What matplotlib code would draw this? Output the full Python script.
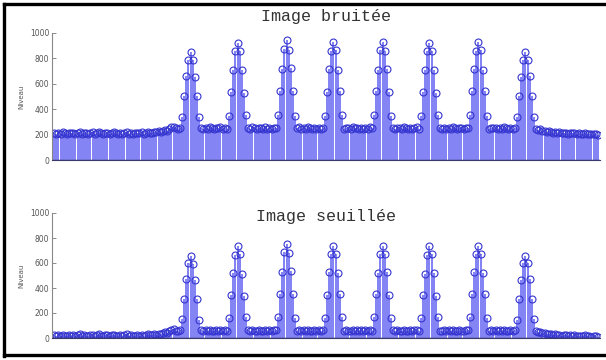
import matplotlib
matplotlib.use("Agg")
import matplotlib.pyplot as plt
from matplotlib.lines import Line2D
import numpy as np

# Profil de niveaux (256 échantillons) : image bruitée
niveaux_bruites = [
    212, 205, 215, 208, 218, 210, 204, 213, 209, 216,
    207, 211, 219, 206, 214, 210, 203, 212, 217, 208,
    213, 220, 209, 205, 216, 211, 207, 214, 218, 210,
    204, 212, 208, 215, 219, 206, 211, 203, 209, 214,
    210, 217, 207, 213, 220, 215, 212, 222, 218, 226,
    224, 230, 238, 232,
    246, 258, 262, 250, 244, 252,
    340, 500, 660, 790, 850, 785, 655, 505, 335,
    255, 248, 252, 244, 258, 250, 246, 253, 249, 256, 243, 251, 247,
    350, 535, 710, 855, 925, 860, 705, 530, 355,
    252, 245, 257, 249, 243, 254, 250, 246, 258, 248, 253, 244, 251, 255,
    355, 540, 720, 875, 945, 870, 725, 545, 350,
    249, 256, 244, 252, 247, 258, 250, 243, 254, 248, 251, 246, 253,
    350, 535, 715, 860, 930, 865, 710, 540, 355,
    247, 253, 250, 244, 257, 249, 252, 245, 255, 248, 251, 243, 256, 250,
    355, 540, 710, 865, 930, 860, 715, 535, 350,
    252, 246, 254, 249, 243, 257, 250, 247, 253, 245, 251, 256, 248,
    350, 535, 705, 855, 925, 860, 710, 530, 355,
    250, 244, 255, 248, 252, 246, 257, 249, 243, 253, 250, 247, 254, 251,
    355, 540, 715, 860, 930, 865, 710, 540, 350,
    246, 253, 249, 255, 244, 251, 247, 256, 250, 243, 252, 248, 254,
    335, 505, 655, 790, 850, 790, 660, 500, 340,
    245, 238, 241, 232, 228, 224, 226,
    220, 216, 222, 213, 218, 210, 215, 212, 207, 214, 209, 211, 205, 210,
    203, 208, 212, 204, 207, 201, 206, 203, 199,
]

# Même profil après seuillage
niveaux_seuilles = [
    22, 15, 25, 18, 28, 20, 14, 23, 19, 26,
    17, 21, 29, 16, 24, 20, 13, 22, 27, 18,
    23, 30, 19, 15, 26, 21, 17, 24, 28, 20,
    14, 22, 18, 25, 29, 16, 21, 13, 19, 24,
    20, 27, 17, 23, 30, 25, 22, 32, 28, 36,
    34, 40, 48, 42,
    56, 68, 72, 60, 54, 62,
    150, 310, 470, 600, 660, 595, 465, 315, 145,
    65, 58, 62, 54, 68, 60, 56, 63, 59, 66, 53, 61, 57,
    160, 345, 520, 665, 735, 670, 515, 340, 165,
    62, 55, 67, 59, 53, 64, 60, 56, 68, 58, 63, 54, 61, 65,
    165, 350, 530, 685, 755, 680, 535, 355, 160,
    59, 66, 54, 62, 57, 68, 60, 53, 64, 58, 61, 56, 63,
    160, 345, 525, 670, 740, 675, 520, 350, 165,
    57, 63, 60, 54, 67, 59, 62, 55, 65, 58, 61, 53, 66, 60,
    165, 350, 520, 675, 740, 670, 525, 345, 160,
    62, 56, 64, 59, 53, 67, 60, 57, 63, 55, 61, 66, 58,
    160, 345, 515, 665, 735, 670, 520, 340, 165,
    60, 54, 65, 58, 62, 56, 67, 59, 53, 63, 60, 57, 64, 61,
    165, 350, 525, 670, 740, 675, 520, 350, 160,
    56, 63, 59, 65, 54, 61, 57, 66, 60, 53, 62, 58, 64,
    145, 315, 465, 600, 660, 600, 470, 310, 150,
    55, 48, 51, 42, 38, 34, 36,
    30, 26, 32, 23, 28, 20, 25, 22, 17, 24, 19, 21, 15, 20,
    13, 18, 22, 14, 17, 11, 16, 13, 9,
]

titres = ["Image bruitée", "Image seuillée"]
yticks = [0, 200, 400, 600, 800, 1000]
ylabel = "Niveau"

fig = plt.figure(figsize=(6.06, 3.60), dpi=100)
fig.patch.set_facecolor("white")

positions = [
    [52 / 606, 1 - 160 / 360, 548 / 606, 127 / 360],
    [52 / 606, 1 - 338 / 360, 548 / 606, 125 / 360],
]
titre_y = [1 - 17 / 360, 1 - 217 / 360]

stem_col = "#8484f4"
mark_col = "#3535d0"

for pos, serie, titre, ty in zip(positions, [niveaux_bruites, niveaux_seuilles], titres, titre_y):
    ax = fig.add_axes(pos)
    x = np.arange(1, len(serie) + 1)
    y = np.asarray(serie)
    ax.vlines(x, 0, y, colors=stem_col, linewidth=1.45)
    ax.plot(x, y, linestyle="none", marker="o", markersize=5.0,
            markerfacecolor="none", markeredgecolor=mark_col, markeredgewidth=0.8)
    ax.axhline(0, color="#3a3a6a", linewidth=1.0)
    ax.set_xlim(0, len(serie) + 1)
    ax.set_ylim(0, 1000)
    ax.set_yticks(yticks)
    ax.set_yticklabels([str(v) for v in yticks])
    ax.set_xticks([])
    ax.tick_params(axis="y", direction="in", length=3, width=0.6,
                   labelsize=5.5, labelcolor="#555555", color="#777777", pad=2)
    for s in ["top", "right"]:
        ax.spines[s].set_visible(False)
    ax.spines["left"].set_color("#888888")
    ax.spines["left"].set_linewidth(0.8)
    ax.spines["bottom"].set_color("#3a3a6a")
    ax.set_ylabel(ylabel, fontsize=5, color="#555555", labelpad=4)
    fig.text(326 / 606, ty, titre, ha="center", va="center",
             family="Liberation Mono", fontsize=12, color="#333333")

# cadre noir autour de la figure
for xs, ys in [([0.007, 0.007], [0.01, 0.99]),
               ([0.007, 1.0], [0.989, 0.989]),
               ([0.007, 1.0], [0.013, 0.013])]:
    fig.add_artist(Line2D(xs, ys, transform=fig.transFigure, color="black", linewidth=2.4))

fig.savefig("out.png", dpi=100)
